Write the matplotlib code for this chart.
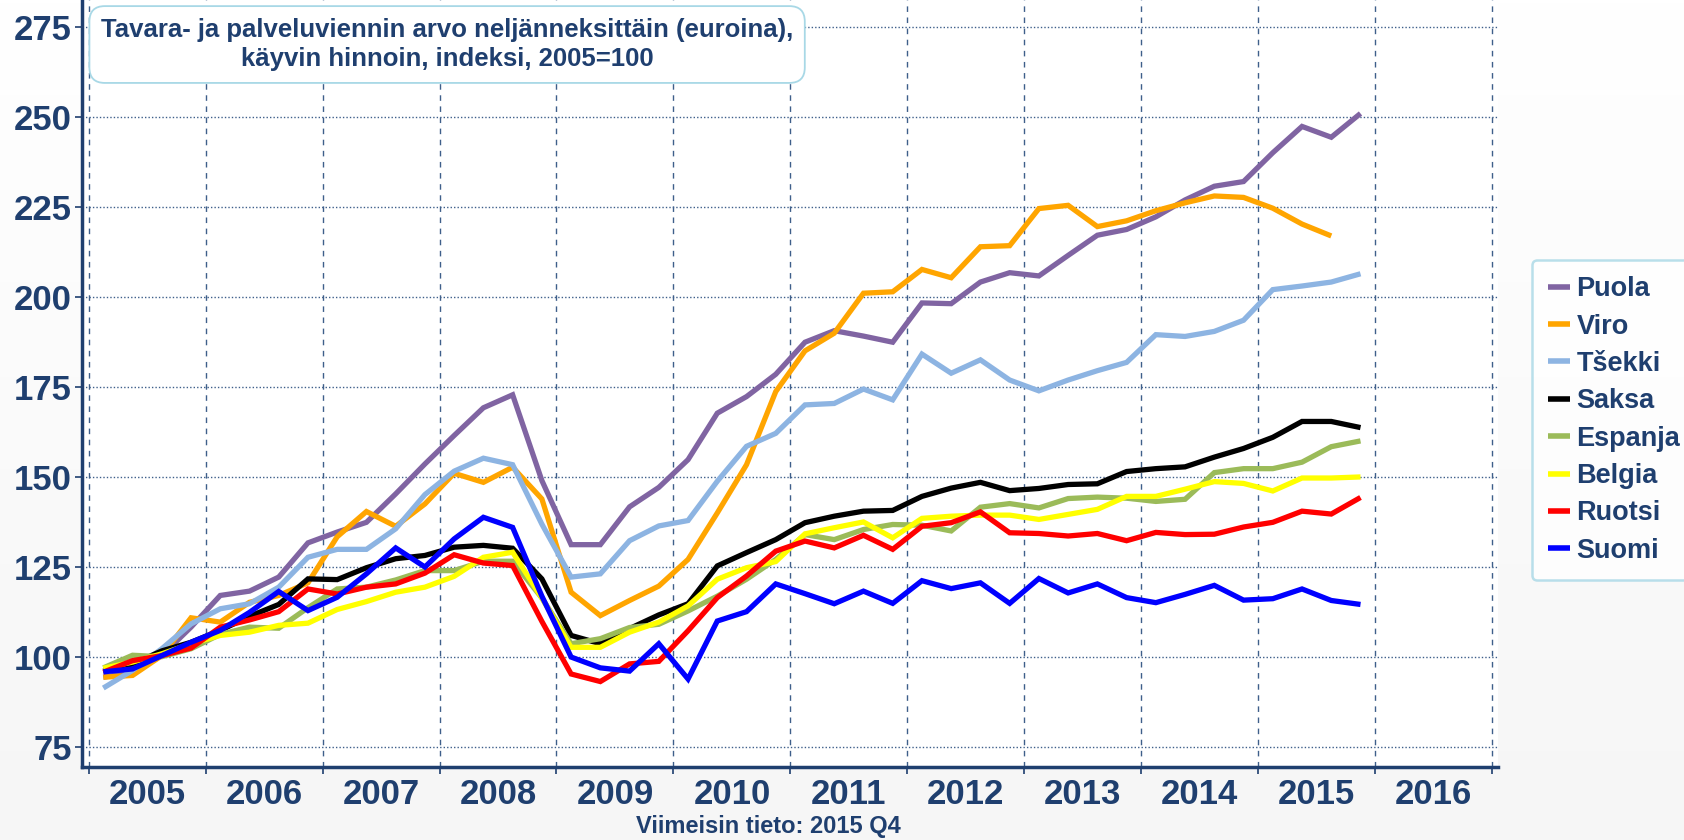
import matplotlib
matplotlib.use("Agg")
import matplotlib.pyplot as plt
import numpy as np

# quarterly export values, index 2005=100, 2005Q1 .. 2015Q4
years = list(range(2005, 2017))
quarters = [y + (q - 0.5) / 4 for y in range(2005, 2016) for q in range(1, 5)]

puola = [94.5, 95.9, 100.5, 108.4,
         117.2, 118.4, 122.3, 131.8,
         134.8, 137.5, 145.4, 153.7,
         161.6, 169.3, 172.9, 149.1,
         131.3, 131.3, 141.8, 147.2,
         154.9, 167.8, 172.4, 178.6,
         187.5, 190.7, 189.2, 187.5,
         198.4, 198.2, 204.2, 206.8,
         205.9, 211.6, 217.2, 218.8,
         222.3, 227.0, 230.8, 232.1,
         240.1, 247.4, 244.4, 251.0]
viro = [94.5, 95.0, 100.5, 111.0,
        109.8, 115.3, 117.2, 120.7,
        133.5, 140.5, 136.4, 142.6,
        151.1, 148.6, 152.8, 144.0,
        118.1, 111.6, 115.8, 119.8,
        127.2, 140.1, 153.5, 173.8,
        185.1, 190.0, 201.1, 201.5,
        207.7, 205.4, 214.0, 214.3,
        224.6, 225.5, 219.6, 221.2,
        224.0, 226.2, 228.1, 227.7,
        224.7, 220.3, 217.0]
tsekki = [91.5, 96.4, 102.4, 109.3,
          113.5, 114.9, 119.5, 127.8,
          130.0, 130.0, 135.7, 145.2,
          151.7, 155.3, 153.5, 137.0,
          122.3, 123.2, 132.4, 136.5,
          138.0, 148.9, 158.6, 162.2,
          170.1, 170.5, 174.5, 171.5,
          184.2, 178.9, 182.6, 177.0,
          174.0, 177.0, 179.6, 181.9,
          189.6, 189.1, 190.5, 193.6,
          202.1, 203.1, 204.2, 206.5]
saksa = [96.2, 98.2, 101.8, 104.2,
         107.5, 111.4, 114.7, 121.8,
         121.6, 124.9, 127.4, 128.3,
         130.6, 131.1, 130.3, 121.8,
         106.1, 103.8, 108.0, 111.8,
         114.9, 125.4, 129.1, 132.7,
         137.4, 139.2, 140.6, 140.8,
         144.7, 147.0, 148.6, 146.3,
         146.9, 148.0, 148.2, 151.6,
         152.4, 152.9, 155.6, 158.0,
         161.1, 165.5, 165.5, 163.8]
espanja = [97.1, 100.6, 100.2, 102.4,
           106.4, 108.4, 108.1, 113.8,
           119.0, 119.5, 121.5, 124.1,
           124.1, 126.7, 126.7, 116.5,
           103.8, 105.2, 108.3, 109.2,
           112.9, 117.0, 121.7, 127.2,
           134.1, 132.7, 135.5, 136.9,
           136.7, 135.1, 141.7, 142.7,
           141.5, 144.1, 144.5, 144.2,
           143.3, 143.9, 151.3, 152.4,
           152.4, 154.2, 158.5, 160.1]
belgia = [97.0, 98.7, 101.0, 103.8,
          106.1, 107.0, 108.9, 109.5,
          113.3, 115.5, 118.1, 119.5,
          122.5, 127.8, 129.2, 116.5,
          102.8, 102.8, 107.0, 109.8,
          114.3, 121.7, 124.9, 126.6,
          134.3, 136.0, 137.6, 133.2,
          138.6, 139.2, 139.5, 139.5,
          138.3, 139.7, 141.1, 144.7,
          144.7, 146.7, 148.8, 148.3,
          146.2, 149.8, 149.8, 150.1]
ruotsi = [95.9, 99.1, 100.5, 102.6,
          108.4, 110.4, 112.7, 119.0,
          117.6, 119.5, 120.4, 123.4,
          128.5, 126.2, 125.5, 110.0,
          95.4, 93.3, 98.2, 98.9,
          107.4, 116.6, 122.6, 129.5,
          132.3, 130.4, 133.9, 130.0,
          136.4, 137.4, 140.4, 134.6,
          134.4, 133.7, 134.4, 132.4,
          134.7, 134.1, 134.2, 136.2,
          137.5, 140.6, 139.8, 144.4]
suomi = [96.0, 96.8, 100.5, 104.2,
         107.5, 112.5, 118.3, 113.0,
         116.7, 123.2, 130.4, 125.1,
         132.9, 138.9, 136.1, 117.0,
         100.1, 97.1, 96.2, 103.8,
         94.0, 110.1, 112.7, 120.4,
         117.7, 114.9, 118.4, 115.0,
         121.3, 119.1, 120.7, 115.0,
         121.9, 117.9, 120.4, 116.6,
         115.2, 117.5, 120.0, 115.9,
         116.3, 119.0, 115.8, 114.7]

names = ["Puola", "Viro", "Tšekki", "Saksa", "Espanja", "Belgia", "Ruotsi", "Suomi"]
series = [puola, viro, tsekki, saksa, espanja, belgia, ruotsi, suomi]
colors = ["#8064A2", "#FFA500", "#8DB4E2", "#000000",
          "#9BBB59", "#FFFF00", "#FF0000", "#0000FF"]

navy = "#1F3F6F"
grid_c = "#3E5F8A"
plt.rcParams["font.family"] = ["Liberation Sans", "DejaVu Sans"]
plt.rcParams["font.weight"] = "bold"

fig = plt.figure(figsize=(16.84, 8.40), dpi=100, facecolor="white")

# faint grey gradient behind the lower part of the figure
bg = fig.add_axes([0, 0, 1, 1], zorder=-10)
grad = np.linspace(1.0, 0.965, 256).reshape(-1, 1)
bg.imshow(np.dstack([grad] * 3), aspect="auto", extent=[0, 1, 0, 1], origin="upper")
bg.axis("off")

ax = fig.add_axes([0.0485, 0.087, 0.841, 0.913])
ax.set_facecolor("white")

for name, vals, c in zip(names, series, colors):
    ax.plot(quarters[:len(vals)], vals, color=c, lw=3.8, label=name,
            solid_joinstyle="miter", solid_capstyle="butt")

ax.set_xlim(2004.94, 2017.05)
ax.set_ylim(69.6, 282.5)

ax.set_yticks(range(75, 276, 25))
ax.set_xticks(years + [2017])
ax.set_xticklabels([])
ax.set_xticks([y + 0.5 for y in years], minor=True)
ax.set_xticklabels([str(y) for y in years], minor=True)

ax.tick_params(axis="y", labelsize=25, colors=navy, length=5, width=1.2, pad=2)
ax.tick_params(axis="x", which="major", length=5, width=1.2, colors=navy, direction="out")
ax.tick_params(axis="x", which="minor", length=0, labelsize=25, labelcolor=navy, pad=8)
for lab in ax.get_yticklabels() + ax.get_xticklabels(minor=True):
    lab.set_fontweight("bold")

ax.grid(axis="y", color=grid_c, lw=1.0, ls=(0, (1, 1.5)))
ax.grid(axis="x", which="major", color=grid_c, lw=1.0, ls=(0, (4, 4)))
ax.set_axisbelow(True)

for s in ["top", "right"]:
    ax.spines[s].set_visible(False)
for s in ["left", "bottom"]:
    ax.spines[s].set_color(navy)
    ax.spines[s].set_linewidth(2.5)

fig.text(0.2655, 0.947, "Tavara- ja palveluviennin arvo neljänneksittäin (euroina),\nkäyvin hinnoin, indeksi, 2005=100",
         ha="center", va="center", fontsize=18.5, fontweight="bold", color=navy, linespacing=1.3,
         bbox=dict(boxstyle="round,pad=0.45,rounding_size=0.6", fc="white", ec="#A8D8E6", lw=1.3))

fig.text(0.456, 0.016, "Viimeisin tieto: 2015 Q4", ha="center", va="center",
         fontsize=17, fontweight="bold", color=navy)

leg = fig.legend(loc="center", bbox_to_anchor=(0.9585, 0.5), frameon=True,
                 handlelength=0.8, handletextpad=0.25, labelspacing=0.42, borderpad=0.6,
                 fancybox=True, labelcolor=navy, prop={"weight": "bold", "size": 19.5})
leg.get_frame().set_edgecolor("#A8D8E6")
leg.get_frame().set_linewidth(1.8)
for h in leg.get_lines():
    h.set_linewidth(4)

fig.savefig("out.png", dpi=100, facecolor=fig.get_facecolor())
